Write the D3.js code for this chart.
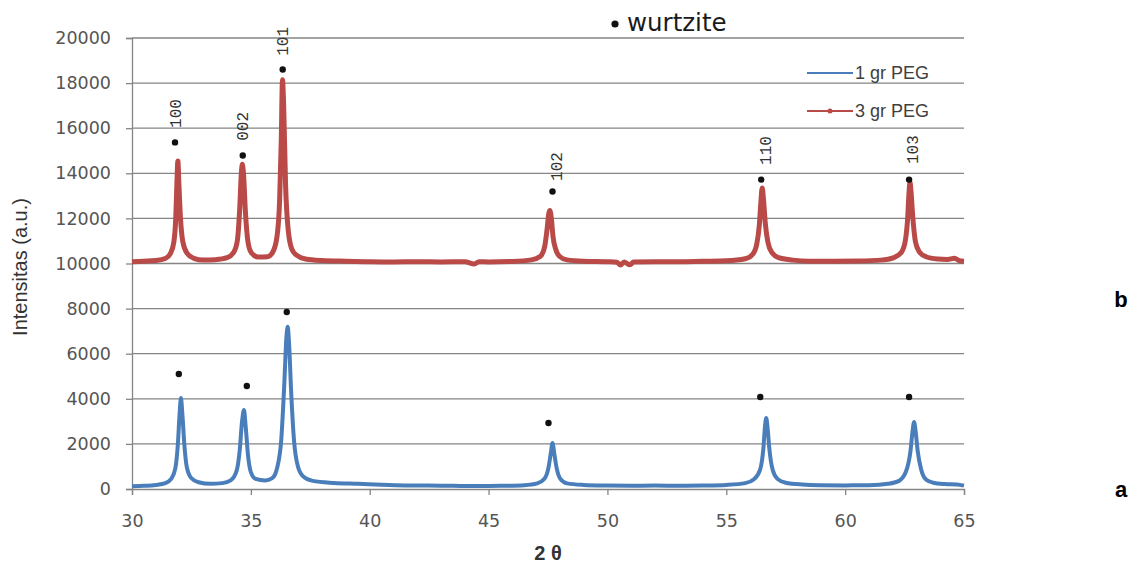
<!DOCTYPE html>
<html>
<head>
<meta charset="utf-8">
<script src="https://cdn.jsdelivr.net/npm/d3@7"></script>
<style>
  body { margin: 0; background: #fff; }
  svg { display: block; }
</style>
</head>
<body>
<main></main>
<script>
// 2 theta / intensity pairs
var peg1 = [
    [30.0, 120], [30.5, 140], [31.0, 180], [31.4, 260], [31.65, 450], [31.82, 900],
    [31.93, 2000], [32.0, 3300], [32.06, 4035], [32.12, 3300], [32.2, 2000], [32.3, 1000],
    [32.48, 500], [32.8, 300], [33.3, 230], [33.8, 260], [34.15, 380], [34.4, 800],
    [34.53, 1700], [34.63, 3000], [34.71, 3500], [34.78, 2800], [34.88, 1500], [35.0, 750],
    [35.2, 450], [35.6, 380], [35.9, 480], [36.12, 1000], [36.28, 2200], [36.4, 4500],
    [36.5, 6800], [36.55, 7190], [36.6, 6600], [36.7, 4200], [36.82, 2100], [36.98, 1000],
    [37.2, 560], [37.6, 360], [38.5, 270], [39.5, 230], [40.5, 190], [41.5, 160],
    [42.5, 150], [43.5, 140], [44.5, 130], [45.5, 140], [46.5, 170], [47.05, 250],
    [47.35, 450], [47.52, 950], [47.62, 1600], [47.69, 2040], [47.76, 1600], [47.86, 950],
    [48.02, 450], [48.3, 250], [49.0, 180], [50.0, 150], [51.0, 140], [52.0, 150],
    [53.0, 140], [54.0, 150], [55.0, 180], [55.8, 260], [56.15, 420], [56.42, 850],
    [56.56, 1800], [56.63, 2800], [56.68, 3150], [56.73, 2800], [56.81, 1800], [56.95, 850],
    [57.15, 450], [57.5, 280], [58.2, 200], [59.0, 170], [60.0, 160], [61.0, 170],
    [61.8, 230], [62.25, 350], [62.55, 750], [62.75, 1700], [62.84, 2600], [62.9, 2970],
    [62.96, 2600], [63.05, 1700], [63.2, 850], [63.4, 420], [63.7, 280], [64.2, 220],
    [64.7, 200], [65.0, 150]
];
var peg3 = [
    [30.0, 10080], [30.5, 10100], [31.0, 10130], [31.4, 10220], [31.62, 10450], [31.76, 10950],
    [31.84, 12000], [31.89, 13600], [31.93, 14550], [31.97, 13600], [32.04, 12000], [32.14, 10950],
    [32.32, 10450], [32.6, 10230], [33.0, 10150], [33.5, 10170], [34.0, 10260], [34.28, 10500],
    [34.43, 11000], [34.53, 12400], [34.6, 14000], [34.64, 14400], [34.69, 14000], [34.77, 12300],
    [34.88, 10950], [35.02, 10480], [35.3, 10290], [35.7, 10300], [35.93, 10520], [36.1, 11200],
    [36.21, 12800], [36.28, 15500], [36.33, 18150], [36.38, 17000], [36.46, 13500], [36.57, 11500],
    [36.72, 10650], [36.92, 10370], [37.3, 10200], [38.0, 10130], [39.0, 10100], [40.0, 10080],
    [41.0, 10070], [42.0, 10080], [43.0, 10070], [44.0, 10080], [44.4, 9980], [44.6, 10080],
    [45.0, 10070], [46.0, 10090], [46.8, 10160], [47.18, 10320], [47.36, 10750], [47.47, 11600],
    [47.53, 12200], [47.58, 12350], [47.64, 12000], [47.71, 11200], [47.82, 10650], [47.98, 10320],
    [48.3, 10160], [49.0, 10100], [50.0, 10080], [50.4, 10060], [50.55, 9930], [50.7, 10070],
    [50.95, 9940], [51.1, 10070], [52.0, 10080], [53.0, 10080], [54.0, 10100], [55.0, 10120],
    [55.8, 10210], [56.12, 10420], [56.28, 10850], [56.39, 11700], [56.46, 12800], [56.51, 13350],
    [56.56, 12900], [56.64, 11800], [56.75, 10950], [56.92, 10480], [57.2, 10260], [57.8, 10150],
    [58.5, 10100], [59.5, 10100], [60.5, 10110], [61.5, 10150], [62.05, 10260], [62.38, 10520],
    [62.53, 11000], [62.63, 12000], [62.69, 13200], [62.73, 13600], [62.77, 13200], [62.85, 12000],
    [62.96, 10950], [63.12, 10520], [63.4, 10300], [63.9, 10200], [64.3, 10180], [64.6, 10230],
    [64.8, 10130], [65.0, 10100]
];

// wurtzite reflections: marker dots above each peak, hkl labels on the upper trace
var dots1 = [[31.97, 5100], [34.83, 4570], [36.51, 7850], [47.52, 2930], [56.43, 4080], [62.69, 4080]];
var dots3 = [[31.81, 15370], [34.66, 14790], [36.34, 18600], [47.69, 13190], [56.47, 13720], [62.69, 13720]];
var hkl = ["100", "002", "101", "102", "110", "103"];
var hklPos = [[31.81, 16650], [34.66, 16080], [36.34, 19850], [47.86, 14300], [56.64, 15010], [62.82, 15050]];

var xTicks = [30, 35, 40, 45, 50, 55, 60, 65];
var yTicks = [0, 2000, 4000, 6000, 8000, 10000, 12000, 14000, 16000, 18000, 20000];
var seriesNames = ["1 gr PEG", "3 gr PEG"];
var sampleTags = [["b", 8400], ["a", 0]];

var W = 1138, H = 572,
    plot = {left: 132, right: 964, top: 38, bottom: 489},
    blue = "#4a7ebb",
    red = "#b94a48",
    grid = "#858585",
    ink = "#555555";

var svg = d3.select("main").append("svg")
    .attr("width", W)
    .attr("height", H);

var x = d3.scaleLinear().domain([30, 65]).range([plot.left, plot.right]),
    y = d3.scaleLinear().domain([0, 20000]).range([plot.bottom, plot.top]);

// gridlines
svg.append("g")
    .selectAll("line")
    .data(yTicks.slice(1))
    .join("line")
    .attr("x1", plot.left)
    .attr("x2", plot.right)
    .attr("y1", function (d) { return y(d); })
    .attr("y2", function (d) { return y(d); })
    .attr("stroke", grid)
    .attr("stroke-width", 1.3);

// axes
var yAxis = svg.append("g")
    .attr("transform", "translate(" + plot.left + ",0)")
    .call(d3.axisLeft(y).tickValues(yTicks).tickSize(6).tickPadding(15).tickFormat(d3.format("d")));
var xAxis = svg.append("g")
    .attr("transform", "translate(0," + plot.bottom + ")")
    .call(d3.axisBottom(x).tickValues(xTicks).tickSize(6).tickPadding(20));

[yAxis, xAxis].forEach(function (g) {
    g.select(".domain").attr("stroke", grid).attr("stroke-width", 1.3);
    g.selectAll(".tick line").attr("stroke", grid).attr("stroke-width", 1.3);
    g.selectAll(".tick text")
        .attr("fill", ink)
        .style("font-family", "DejaVu Sans")
        .style("font-size", "17.5px");
});

// traces
var line = d3.line()
    .x(function (d) { return x(d[0]); })
    .y(function (d) { return y(d[1]); })
    .curve(d3.curveMonotoneX);

svg.append("path")
    .datum(peg1)
    .attr("d", line)
    .attr("fill", "none")
    .attr("stroke", blue)
    .attr("stroke-width", 4)
    .attr("stroke-linejoin", "round");

svg.append("path")
    .datum(peg3)
    .attr("d", line)
    .attr("fill", "none")
    .attr("stroke", red)
    .attr("stroke-width", 5)
    .attr("stroke-linejoin", "round");

// reflection markers
svg.append("g")
    .selectAll("circle")
    .data(dots1.concat(dots3))
    .join("circle")
    .attr("cx", function (d) { return x(d[0]); })
    .attr("cy", function (d) { return y(d[1]); })
    .attr("r", 3.2)
    .attr("fill", "#111");

svg.append("g")
    .selectAll("text")
    .data(hkl)
    .join("text")
    .attr("transform", function (d, i) {
        return "translate(" + x(hklPos[i][0]) + "," + y(hklPos[i][1]) + ") rotate(-90)";
    })
    .attr("text-anchor", "middle")
    .attr("dy", "0.35em")
    .attr("fill", "#333")
    .style("font-family", "Liberation Mono")
    .style("font-size", "16px")
    .text(function (d) { return d; });

// "• wurtzite" key
svg.append("circle")
    .attr("cx", 615)
    .attr("cy", 24)
    .attr("r", 3.6)
    .attr("fill", "#111");
svg.append("text")
    .attr("x", 627)
    .attr("y", 31)
    .attr("fill", "#1a1a1a")
    .style("font-family", "DejaVu Sans")
    .style("font-size", "24.5px")
    .text("wurtzite");

// legend
var legend = svg.append("g")
    .selectAll("g")
    .data(seriesNames)
    .join("g")
    .attr("transform", function (d, i) { return "translate(807," + (73 + i * 38) + ")"; });
legend.append("line")
    .attr("x1", 0)
    .attr("x2", 46)
    .attr("stroke", function (d, i) { return i ? red : blue; })
    .attr("stroke-width", 2);
legend.filter(function (d, i) { return i === 1; })
    .append("circle")
    .attr("cx", 23)
    .attr("r", 2.5)
    .attr("fill", red);
legend.append("text")
    .attr("x", 48)
    .attr("dy", "0.35em")
    .attr("fill", "#404040")
    .style("font-family", "Liberation Sans")
    .style("font-size", "18px")
    .text(function (d) { return d; });

// axis titles
svg.append("text")
    .attr("transform", "translate(20,267) rotate(-90)")
    .attr("text-anchor", "middle")
    .attr("dy", "0.35em")
    .attr("fill", "#333")
    .style("font-family", "Liberation Sans")
    .style("font-size", "20px")
    .text("Intensitas (a.u.)");

svg.append("text")
    .attr("x", 548)
    .attr("y", 560)
    .attr("text-anchor", "middle")
    .attr("fill", "#333")
    .style("font-family", "Liberation Sans")
    .style("font-size", "20px")
    .style("font-weight", "bold")
    .text("2 θ");

// sample tags
svg.append("g")
    .selectAll("text")
    .data(sampleTags)
    .join("text")
    .attr("x", 1121)
    .attr("y", function (d) { return y(d[1]); })
    .attr("dy", "0.35em")
    .attr("text-anchor", "middle")
    .attr("fill", "#000")
    .style("font-family", "Liberation Sans")
    .style("font-size", "22px")
    .style("font-weight", "bold")
    .text(function (d) { return d[0]; });
</script>
</body>
</html>
